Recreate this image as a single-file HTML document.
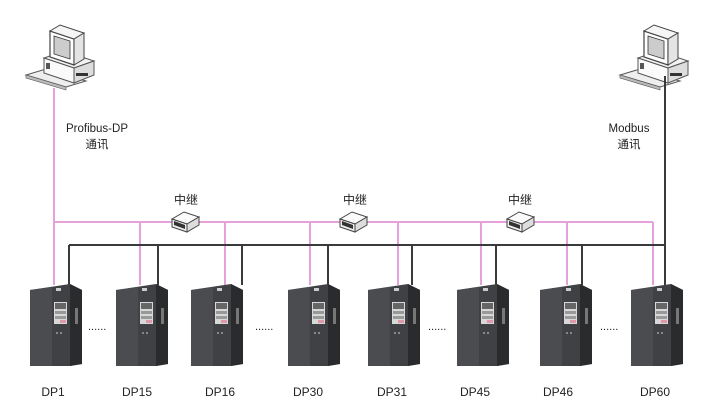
<!DOCTYPE html>
<html><head><meta charset="utf-8"><style>
body{margin:0;background:#fff;}
svg text{font-family:"Liberation Sans","Noto Sans CJK SC",sans-serif;fill:#222;}
</style></head><body>
<svg width="716" height="411" viewBox="0 0 716 411" xmlns="http://www.w3.org/2000/svg">
<defs>
<g id="pc">
  <polygon points="0,52 40,64 60,58 20,46" fill="#eee" stroke="#555" stroke-width="1"/>
  <polygon points="0,52 40,64 40,67 0,55" fill="#bbb" stroke="#555" stroke-width="0.6"/>
  <polygon points="18,35 48,45 68,38 38,28" fill="#f2f2f2" stroke="#555" stroke-width="1"/>
  <polygon points="48,45 68,38 68,52 48,60" fill="#ddd" stroke="#555" stroke-width="1"/>
  <polygon points="18,35 48,45 48,60 18,50" fill="#fafafa" stroke="#555" stroke-width="1"/>
  <polygon points="24,8 48,16 48,42 24,34" fill="#fff" stroke="#444" stroke-width="1.2"/>
  <polygon points="28,13 44,18 44,36 28,31" fill="#ccc" stroke="#333" stroke-width="0.8"/>
  <polygon points="24,8 34,2 58,10 48,16" fill="#f5f5f5" stroke="#444" stroke-width="1"/>
  <polygon points="48,16 58,10 58,36 48,42" fill="#e4e4e4" stroke="#444" stroke-width="1"/>
  <rect x="50" y="50" width="12" height="3" fill="#333"/>
  <rect x="20" y="40" width="4" height="6" fill="#555"/>
</g>
<g id="rep">
  <polygon points="0,9 15,14 27,7 12,2" fill="#fafafa" stroke="#444" stroke-width="1"/>
  <polygon points="0,9 15,14 15,22 0,17" fill="#eee" stroke="#444" stroke-width="1"/>
  <polygon points="15,14 27,7 27,15 15,22" fill="#ddd" stroke="#444" stroke-width="1"/>
  <polygon points="2,11 13,15 13,19 2,15" fill="#333"/>
</g>
<g id="drv">
  <polygon points="0,6 40,0 52,6 52,80 40,82 0,82" fill="#3f4144"/>
  <polygon points="40,0 52,6 52,80 40,82" fill="#2a2b2d"/>
  <polygon points="0,6 22,3 22,82 0,82" fill="#4a4c50"/>
  <rect x="24" y="18" width="13" height="22" fill="#d8d8d8"/>
  <rect x="25" y="19" width="11" height="6" fill="#666"/>
  <rect x="25" y="27" width="11" height="3" fill="#999"/>
  <rect x="25" y="32" width="11" height="3" fill="#999"/>
  <rect x="30" y="36" width="6" height="3" fill="#d9a"/>
  <rect x="26" y="4" width="5" height="3" fill="#ccc"/>
  <rect x="45" y="24" width="3" height="16" fill="#777"/>
  <circle cx="27" cy="49" r="0.9" fill="#bbb"/><circle cx="31" cy="49" r="0.9" fill="#bbb"/>
</g>
</defs>

<use href="#pc" x="26" y="23"/>
<use href="#pc" x="620" y="23"/>

<!-- pink bus -->
<g stroke="#e6a0dc" stroke-width="2" fill="none">
  <line x1="54" y1="88" x2="54" y2="285"/>
  <line x1="54" y1="222" x2="653" y2="222"/>
  <line x1="140" y1="222" x2="140" y2="285"/>
  <line x1="225" y1="222" x2="225" y2="285"/>
  <line x1="310" y1="222" x2="310" y2="285"/>
  <line x1="398" y1="222" x2="398" y2="285"/>
  <line x1="481" y1="222" x2="481" y2="285"/>
  <line x1="567" y1="222" x2="567" y2="285"/>
  <line x1="653" y1="222" x2="653" y2="285"/>
</g>
<!-- black bus -->
<g stroke="#3a3a3a" stroke-width="2" fill="none">
  <line x1="665" y1="76" x2="665" y2="285"/>
  <line x1="69" y1="245" x2="665" y2="245"/>
  <line x1="69" y1="245" x2="69" y2="285"/>
  <line x1="158" y1="245" x2="158" y2="285"/>
  <line x1="242" y1="245" x2="242" y2="285"/>
  <line x1="328" y1="245" x2="328" y2="285"/>
  <line x1="412" y1="245" x2="412" y2="285"/>
  <line x1="496" y1="245" x2="496" y2="285"/>
  <line x1="582" y1="245" x2="582" y2="285"/>
</g>

<use href="#rep" x="172" y="210"/>
<use href="#rep" x="340" y="210"/>
<use href="#rep" x="507" y="210"/>

<text x="186" y="204" font-size="12" text-anchor="middle">中继</text>
<text x="355" y="204" font-size="12" text-anchor="middle">中继</text>
<text x="520" y="204" font-size="12" text-anchor="middle">中继</text>

<text x="97" y="132" font-size="11.5" text-anchor="middle">Profibus-DP</text>
<text x="97" y="148" font-size="11.5" text-anchor="middle">通讯</text>
<text x="629" y="132" font-size="11.5" text-anchor="middle">Modbus</text>
<text x="629" y="148" font-size="11.5" text-anchor="middle">通讯</text>

<use href="#drv" x="30" y="284"/>
<use href="#drv" x="116" y="284"/>
<use href="#drv" x="191" y="284"/>
<use href="#drv" x="288" y="284"/>
<use href="#drv" x="368" y="284"/>
<use href="#drv" x="457" y="284"/>
<use href="#drv" x="540" y="284"/>
<use href="#drv" x="631" y="284"/>

<g font-size="11" fill="#333">
<text x="88" y="330">......</text>
<text x="255" y="330">......</text>
<text x="428" y="330">......</text>
<text x="600" y="330">......</text>
</g>

<g font-size="12" text-anchor="middle">
<text x="53" y="396">DP1</text>
<text x="137" y="396">DP15</text>
<text x="220" y="396">DP16</text>
<text x="308" y="396">DP30</text>
<text x="392" y="396">DP31</text>
<text x="475" y="396">DP45</text>
<text x="558" y="396">DP46</text>
<text x="655" y="396">DP60</text>
</g>
</svg>
</body></html>
